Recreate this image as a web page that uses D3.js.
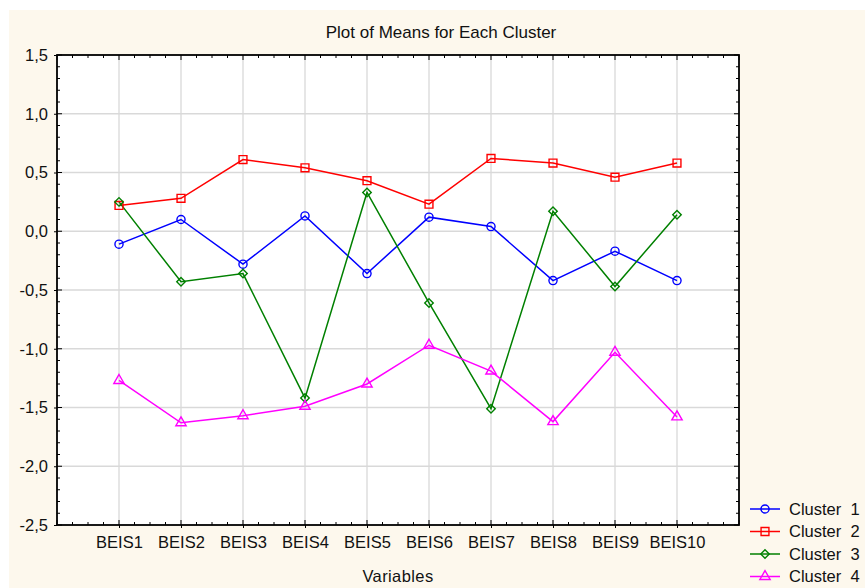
<!DOCTYPE html>
<html>
<head>
<meta charset="utf-8">
<script src="https://cdn.jsdelivr.net/npm/d3@7"></script>
<style>
  body { margin: 0; background: #fff; }
  svg { display: block; font-family: "Liberation Sans", Arial, sans-serif; }
</style>
</head>
<body>
<div id="chart"></div>
<script>
var variables = ["BEIS1", "BEIS2", "BEIS3", "BEIS4", "BEIS5", "BEIS6", "BEIS7", "BEIS8", "BEIS9", "BEIS10"];
var clusterNames = ["Cluster  1", "Cluster  2", "Cluster  3", "Cluster  4"];
var cluster1 = [-0.11, 0.10, -0.28, 0.13, -0.36, 0.12, 0.04, -0.42, -0.17, -0.42];
var cluster2 = [0.22, 0.28, 0.61, 0.54, 0.43, 0.23, 0.62, 0.58, 0.46, 0.58];
var cluster3 = [0.25, -0.43, -0.36, -1.42, 0.33, -0.61, -1.51, 0.17, -0.47, 0.14];
var cluster4 = [-1.27, -1.63, -1.57, -1.49, -1.30, -0.97, -1.19, -1.62, -1.03, -1.58];
var yTicks = [-2.5, -2.0, -1.5, -1.0, -0.5, 0.0, 0.5, 1.0, 1.5];

var width = 865, height = 588;
var plotL = 57, plotR = 739, plotT = 55, plotB = 525;

var colors = ["#0000ff", "#ff0000", "#008000", "#ff00ff"];
// diamond drawn as a square turned by 45 degrees
var shapes = [d3.symbolCircle, d3.symbolSquare, d3.symbolSquare, d3.symbolTriangle];
var rot = [0, 0, 45, 0];
var sizes = [52, 62, 36, 46];

var series = [cluster1, cluster2, cluster3, cluster4];

var loc = d3.formatLocale({decimal: ",", thousands: ".", grouping: [3], currency: ["", ""], minus: "-"});
var fmt = loc.format(".1f");

var svg = d3.select("#chart").append("svg")
    .attr("width", width)
    .attr("height", height);

// cream panel
svg.append("rect")
    .attr("x", 9).attr("y", 10)
    .attr("width", width - 9).attr("height", height - 10)
    .attr("fill", "#fdf8ed");

var x = d3.scalePoint()
    .domain(variables)
    .range([plotL, plotR])
    .padding(1);

var y = d3.scaleLinear()
    .domain([-2.5, 1.5])
    .range([plotB, plotT]);

// plot area
svg.append("rect")
    .attr("x", plotL).attr("y", plotT)
    .attr("width", plotR - plotL).attr("height", plotB - plotT)
    .attr("fill", "#fff");

// grid
svg.append("g").selectAll("line")
    .data(yTicks.slice(1, -1))
    .enter().append("line")
    .attr("x1", plotL).attr("x2", plotR)
    .attr("y1", function(d) { return y(d); })
    .attr("y2", function(d) { return y(d); })
    .attr("stroke", "#d9d9d9").attr("stroke-width", 1.3);

svg.append("g").selectAll("line")
    .data(variables)
    .enter().append("line")
    .attr("y1", plotT).attr("y2", plotB)
    .attr("x1", function(d) { return x(d); })
    .attr("x2", function(d) { return x(d); })
    .attr("stroke", "#d9d9d9").attr("stroke-width", 1.3);

// minor ticks (inside the frame)
var yMinor = d3.range(-25, 16).map(function(d) { return d / 10; });
var step = x.step();
var xMinor = d3.range(0, 45).map(function(d) { return plotL + d * step / 4; });

var ticks = svg.append("g").attr("stroke", "#000").attr("stroke-width", 1);
yMinor.forEach(function(v) {
  var len = (Math.abs(v * 2 - Math.round(v * 2)) < 1e-6) ? 5 : 3;
  ticks.append("line").attr("x1", plotL).attr("x2", plotL + len).attr("y1", y(v)).attr("y2", y(v));
  ticks.append("line").attr("x1", plotR).attr("x2", plotR - len).attr("y1", y(v)).attr("y2", y(v));
});
xMinor.forEach(function(px, i) {
  var len = (i % 4 === 0) ? 5 : 3;
  ticks.append("line").attr("x1", px).attr("x2", px).attr("y1", plotB).attr("y2", plotB - len);
  ticks.append("line").attr("x1", px).attr("x2", px).attr("y1", plotT).attr("y2", plotT + len);
});

// axes
var yAxis = svg.append("g")
    .attr("transform", "translate(" + plotL + ",0)")
    .call(d3.axisLeft(y).tickValues(yTicks).tickFormat(fmt).tickSize(3).tickPadding(6));
yAxis.select(".domain").remove();
yAxis.selectAll("text").attr("font-size", 16.5).attr("fill", "#111")
    .style("font-family", "'Liberation Sans', Arial, sans-serif");

var xAxis = svg.append("g")
    .attr("transform", "translate(0," + plotB + ")")
    .call(d3.axisBottom(x).tickSize(3).tickPadding(8));
xAxis.select(".domain").remove();
xAxis.selectAll("text").attr("font-size", 16.5).attr("fill", "#111")
    .style("font-family", "'Liberation Sans', Arial, sans-serif");

// frame
svg.append("rect")
    .attr("x", plotL).attr("y", plotT)
    .attr("width", plotR - plotL).attr("height", plotB - plotT)
    .attr("fill", "none").attr("stroke", "#000").attr("stroke-width", 1.8);

// lines + markers
var line = d3.line()
    .x(function(d, i) { return x(variables[i]); })
    .y(function(d) { return y(d); });

series.forEach(function(vals, k) {
  svg.append("path")
      .datum(vals)
      .attr("d", line)
      .attr("fill", "none")
      .attr("stroke", colors[k])
      .attr("stroke-width", 1.5);
});

series.forEach(function(vals, k) {
  svg.append("g").selectAll("path")
      .data(vals)
      .enter().append("path")
      .attr("d", d3.symbol().type(shapes[k]).size(sizes[k]))
      .attr("transform", function(d, i) {
        return "translate(" + x(variables[i]) + "," + y(d) + ") rotate(" + rot[k] + ")";
      })
      .attr("fill", "none")
      .attr("stroke", colors[k])
      .attr("stroke-width", 1.4);
});

// title
svg.append("text")
    .attr("x", 441).attr("y", 38)
    .attr("text-anchor", "middle")
    .attr("font-size", 17).attr("fill", "#111")
    .text("Plot of Means for Each Cluster");

// x label
svg.append("text")
    .attr("x", (plotL + plotR) / 2).attr("y", 582)
    .attr("text-anchor", "middle")
    .attr("font-size", 16.5).attr("fill", "#111")
    .attr("letter-spacing", 0.4)
    .text("Variables");

// legend
var legend = svg.append("g").selectAll("g")
    .data(clusterNames)
    .enter().append("g")
    .attr("transform", function(d, i) { return "translate(750," + (509 + i * 22.5) + ")"; });

legend.append("line")
    .attr("x1", 0).attr("x2", 30)
    .attr("stroke", function(d, i) { return colors[i]; })
    .attr("stroke-width", 1.5);

legend.append("path")
    .attr("d", function(d, i) { return d3.symbol().type(shapes[i]).size(sizes[i])(); })
    .attr("transform", function(d, i) { return "translate(15,0) rotate(" + rot[i] + ")"; })
    .attr("fill", "none")
    .attr("stroke", function(d, i) { return colors[i]; })
    .attr("stroke-width", 1.4);

legend.append("text")
    .attr("x", 39).attr("dy", "0.36em")
    .attr("font-size", 16.5).attr("fill", "#111")
    .style("white-space", "pre")
    .text(function(d) { return d; });
</script>
</body>
</html>
